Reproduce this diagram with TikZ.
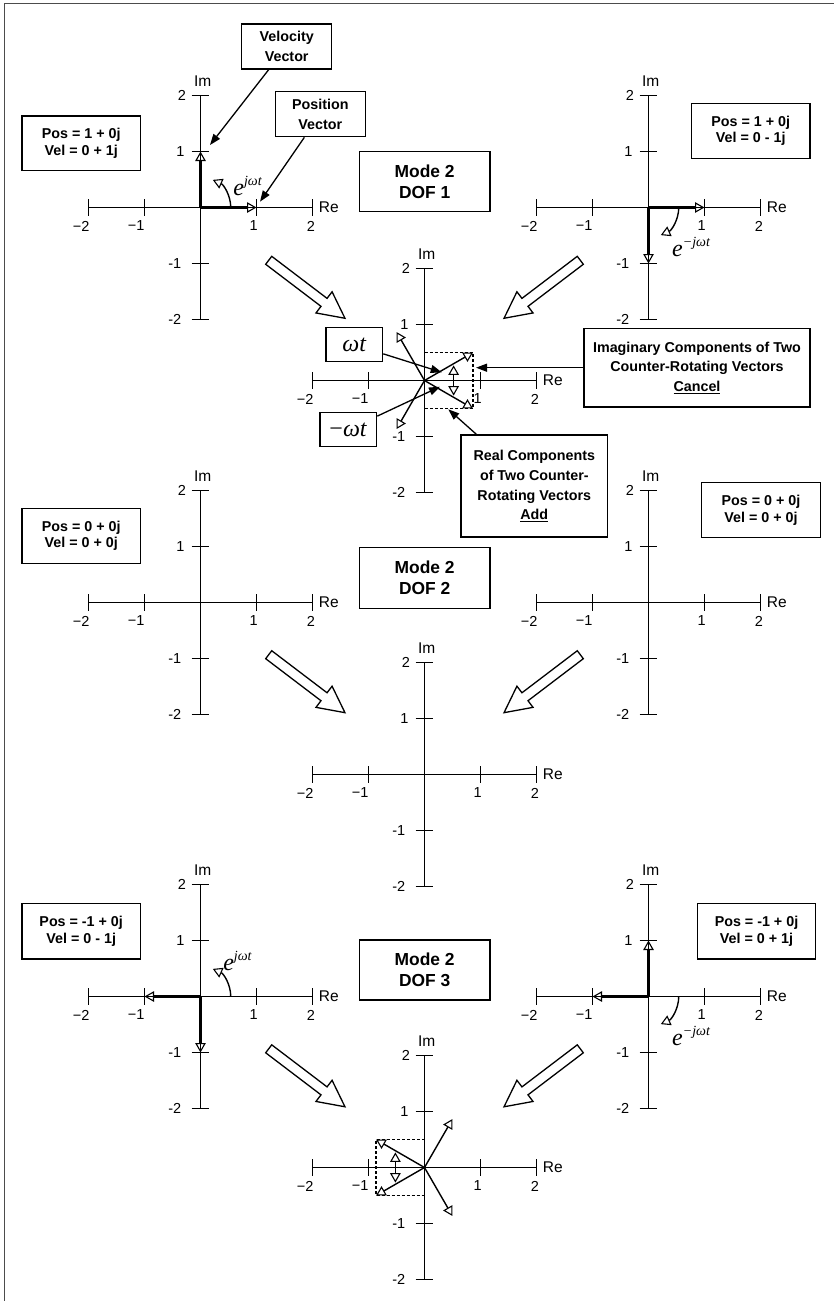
\documentclass[tikz,border=0pt]{standalone}
\usepackage{fontspec}
\setmainfont{Liberation Sans}
\newfontfamily\tms{Liberation Serif}
\usetikzlibrary{arrows.meta}
\def\U{56pt}
\tikzset{
  axisline/.style={line width=1.5pt},
  ticklab/.style={font=\fontsize{14.5}{14.5}\selectfont, inner sep=0pt},
  axlab/.style={font=\fontsize{15.5}{15.5}\selectfont, inner sep=0pt},
  otri/.tip={Triangle[open,length=9.5pt,width=10.5pt,line width=1.1pt]},
  vthick/.style={line width=2.2pt, -{otri}},
  vec/.style={line width=1.4pt, -{otri}},
  dvec/.style={line width=1.4pt, {otri}-{otri}},
  dashline/.style={line width=1.1pt, dash pattern=on 3pt off 2pt},
  callout/.style={line width=1.3pt, -{Triangle[length=11pt,width=8pt]}},
  infobox/.style={draw, line width=1.3pt, align=center, inner sep=0pt,
    font=\bfseries\fontsize{14.3}{16.7}\selectfont},
  notebox/.style={draw, line width=1.3pt, align=center, inner sep=0pt,
    font=\bfseries\fontsize{14.3}{19.8}\selectfont},
  modebox/.style={draw, line width=1.3pt, align=center, inner sep=0pt,
    minimum width=130.7pt, minimum height=60pt,
    font=\bfseries\fontsize{17.4}{20.7}\selectfont},
  wbox/.style={draw, line width=1.3pt, inner sep=0pt,
    minimum width=56.7pt, minimum height=34pt},
  elab/.style={inner sep=0pt},
  bigarrow/.style={draw, line width=1.3pt, fill=white, line join=miter},
  frameline/.style={line width=1.3pt, draw=black!70}
}
\newcommand\eexp[1]{{\tms\itshape\fontsize{24}{24}\selectfont e\raisebox{10pt}{\fontsize{14}{14}\selectfont #1}}}
\newcommand\axes[1]{%
  \draw[axisline] (-2,0) -- (2,0);
  \draw[axisline] (0,-2) -- (0,2);
  \foreach \t in {-2,-1,1,2}{%
    \draw[axisline] (\t,-0.15) -- (\t,0.15);
    \draw[axisline] (-0.16,\t) -- (0.16,\t);}
  \node[ticklab] (#1-x1) at (-2.13,-0.33) {−2};
  \node[ticklab] (#1-x2) at (-1.15,-0.33) {−1};
  \node[ticklab] (#1-x3) at (0.95,-0.33) {1};
  \node[ticklab] (#1-x4) at (1.97,-0.33) {2};
  \node[ticklab] (#1-y1) at (-0.33,2) {2};
  \node[ticklab] (#1-y2) at (-0.36,1) {1};
  \node[ticklab] (#1-y3) at (-0.46,-1) {-1};
  \node[ticklab] (#1-y4) at (-0.46,-2) {-2};
  \node[axlab, anchor=west] (#1-re) at (2.11,0) {Re};
  \node[axlab, anchor=south] (#1-im) at (0.04,2.16) {Im};
}
\newcommand\bigarr[3]{%
  \draw[bigarrow, shift={(#1,#2)}, rotate=#3]
    (0,5) -- (69.5,5) -- (69.5,13.3) -- (95.8,0) -- (69.5,-13.3) -- (69.5,-5) -- (0,-5) -- cycle;}
\begin{document}
\begin{tikzpicture}[x=1pt,y=-1pt]
\useasboundingbox (0,0) rectangle (834,1301);
\draw[frameline] (4.5,1301) -- (4.5,3.5) -- (834,3.5);

% ---------- Row 1 ----------
\begin{scope}[shift={(200.5,207.5)},x=\U,y=\U]
  \axes{A}
  \coordinate (A-o) at (0,0);
  \coordinate (A-p) at (1,0);
  \coordinate (A-v) at (0,1);
  \coordinate (A-a) at (0.54,0);
  \draw[vthick] (A-o) -- (A-p);
  \draw[vthick] (A-o) -- (A-v);
  \draw[vec] (A-a) arc[start angle=0,end angle=66,radius=0.54];
  \node[elab] (A-e) at (0.84,0.39) {\eexp{jωt}};
\end{scope}

\begin{scope}[shift={(648.5,207.5)},x=\U,y=\U]
  \axes{B}
  \coordinate (B-o) at (0,0);
  \coordinate (B-p) at (1,0);
  \coordinate (B-v) at (0,-1);
  \coordinate (B-a) at (0.54,0);
  \draw[vthick] (B-o) -- (B-p);
  \draw[vthick] (B-o) -- (B-v);
  \draw[vec] (B-a) arc[start angle=0,end angle=-66,radius=0.54];
  \node[elab] (B-e) at (0.76,-0.7) {\eexp{−jωt}};
\end{scope}

\begin{scope}[shift={(424.5,380.5)},x=\U,y=\U]
  \axes{C}
  \coordinate (C-o) at (0,0);
  \coordinate (C-p1) at (30:1);
  \coordinate (C-p2) at (-30:1);
  \coordinate (C-v1) at (120:1);
  \coordinate (C-v2) at (-120:1);
  \coordinate (C-t) at (0,0.5);
  \coordinate (C-b) at (0,-0.5);
  \coordinate (C-d1) at (0.52,-0.27);
  \coordinate (C-d2) at (0.52,0.27);
  \draw[dashline] (C-t) -- (C-p1) -- (C-p2) -- (C-b);
  \draw[vec] (C-o) -- (C-p1);
  \draw[vec] (C-o) -- (C-p2);
  \draw[vec] (C-o) -- (C-v1);
  \draw[vec] (C-o) -- (C-v2);
  \draw[dvec] (C-d1) -- (C-d2);
\end{scope}

\node[notebox, minimum width=90pt, minimum height=45pt] (velbox) at (286.7,46.5) {Velocity\\Vector};
\node[notebox, minimum width=90pt, minimum height=45pt] (posvbox) at (320.3,114.2) {Position\\Vector};
\node[infobox, minimum width=118.3pt, minimum height=54.7pt] (pA) at (81.2,143.3) {Pos = 1 + 0j\\Vel = 0 + 1j};
\node[infobox, minimum width=118.7pt, minimum height=55pt] (pB) at (750.7,130.8) {Pos = 1 + 0j\\Vel = 0 - 1j};
\node[modebox] (mode1) at (424.7,181.7) {Mode 2\\DOF 1};
\node[wbox] (wt) at (354.3,344.7) {\tms\itshape\fontsize{24}{24}\selectfont ωt};
\node[wbox] (mwt) at (348.3,429.7) {\tms\fontsize{24}{24}\selectfont −\textit{ωt}};
\node[notebox, minimum width=226pt, minimum height=78.7pt] (imag) at (697,367.7) {Imaginary Components of Two\\Counter-Rotating Vectors\\\underline{Cancel}};
\node[notebox, minimum width=146.7pt, minimum height=102pt] (real) at (534.3,486) {Real Components\\of Two Counter-\\Rotating Vectors\\\underline{Add}};

\coordinate (veltip) at (210,145);
\coordinate (posvtip) at (260,201.7);
\coordinate (wttip) at (441.7,372.3);
\coordinate (mwttip) at (440,386.7);
\coordinate (imagtip) at (476,367.7);
\coordinate (realtip) at (448.3,409.3);
\draw[callout] (velbox) -- (veltip);
\draw[callout] (posvbox) -- (posvtip);
\draw[callout] (wt) -- (wttip);
\draw[callout] (mwt) -- (mwttip);
\draw[callout] (imag) -- (imagtip);
\draw[callout] (real) -- (realtip);

\bigarr{268.7}{260.3}{-37.24}
\bigarr{580.3}{260.3}{-142.76}

% ---------- Row 2 ----------
\begin{scope}[shift={(200.5,602.5)},x=\U,y=\U]
  \axes{D}
\end{scope}
\begin{scope}[shift={(648.5,602.5)},x=\U,y=\U]
  \axes{E}
\end{scope}
\begin{scope}[shift={(424.5,774.5)},x=\U,y=\U]
  \axes{F}
\end{scope}
\node[infobox, minimum width=118.3pt, minimum height=55pt] (pD) at (81.2,535.8) {Pos = 0 + 0j\\Vel = 0 + 0j};
\node[infobox, minimum width=118.5pt, minimum height=55pt] (pE) at (761,510) {Pos = 0 + 0j\\Vel = 0 + 0j};
\node[modebox, minimum height=60.6pt] (mode2) at (424.7,578) {Mode 2\\DOF 2};
\bigarr{268.7}{654.7}{-37.24}
\bigarr{580.3}{654.7}{-142.76}

% ---------- Row 3 ----------
\begin{scope}[shift={(200.5,996.5)},x=\U,y=\U]
  \axes{G}
  \coordinate (G-o) at (0,0);
  \coordinate (G-p) at (-1,0);
  \coordinate (G-v) at (0,-1);
  \coordinate (G-a) at (0.54,0);
  \draw[vthick] (G-o) -- (G-p);
  \draw[vthick] (G-o) -- (G-v);
  \draw[vec] (G-a) arc[start angle=0,end angle=66,radius=0.54];
  \node[elab] (G-e) at (0.66,0.64) {\eexp{jωt}};
\end{scope}

\begin{scope}[shift={(648.5,996.5)},x=\U,y=\U]
  \axes{H}
  \coordinate (H-o) at (0,0);
  \coordinate (H-p) at (-1,0);
  \coordinate (H-v) at (0,1);
  \coordinate (H-a) at (0.54,0);
  \draw[vthick] (H-o) -- (H-p);
  \draw[vthick] (H-o) -- (H-v);
  \draw[vec] (H-a) arc[start angle=0,end angle=-66,radius=0.54];
  \node[elab] (H-e) at (0.76,-0.7) {\eexp{−jωt}};
\end{scope}

\begin{scope}[shift={(424.5,1167.5)},x=\U,y=\U]
  \axes{K}
  \coordinate (K-o) at (0,0);
  \coordinate (K-p1) at (150:1);
  \coordinate (K-p2) at (-150:1);
  \coordinate (K-v1) at (60:1);
  \coordinate (K-v2) at (-60:1);
  \coordinate (K-t) at (0,0.5);
  \coordinate (K-b) at (0,-0.5);
  \coordinate (K-d1) at (-0.52,-0.27);
  \coordinate (K-d2) at (-0.52,0.27);
  \draw[dashline] (K-t) -- (K-p1) -- (K-p2) -- (K-b);
  \draw[vec] (K-o) -- (K-p1);
  \draw[vec] (K-o) -- (K-p2);
  \draw[vec] (K-o) -- (K-v1);
  \draw[vec] (K-o) -- (K-v2);
  \draw[dvec] (K-d1) -- (K-d2);
\end{scope}

\node[infobox, minimum width=118.3pt, minimum height=55.7pt] (pG) at (81.2,931.2) {Pos = -1 + 0j\\Vel = 0 - 1j};
\node[infobox, minimum width=118.4pt, minimum height=55.7pt] (pH) at (756.5,931.2) {Pos = -1 + 0j\\Vel = 0 + 1j};
\node[modebox] (mode3) at (424.7,970) {Mode 2\\DOF 3};
\bigarr{268.7}{1048.8}{-37.24}
\bigarr{580.3}{1048.8}{-142.76}
\end{tikzpicture}
\end{document}
